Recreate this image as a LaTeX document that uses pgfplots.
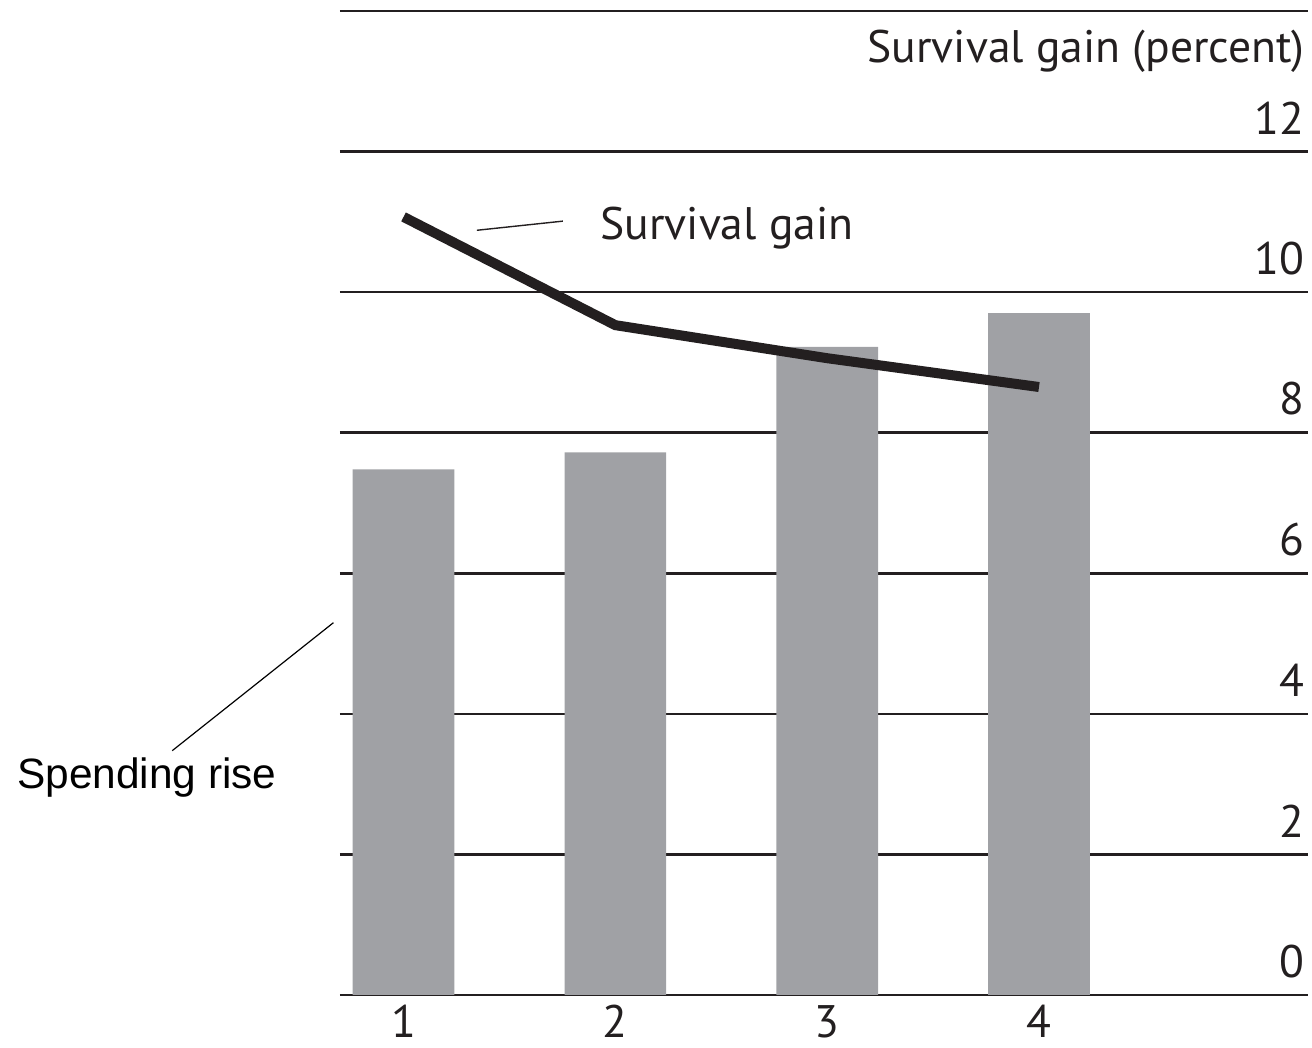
\documentclass[border=0pt]{standalone}
\usepackage{fontspec}
\setmainfont{PT Sans}
\newfontfamily\arialfont{Liberation Sans}
\usepackage{pgfplots}
\pgfplotsset{compat=1.18}

\definecolor{bargray}{RGB}{160,161,165}
\definecolor{ink}{RGB}{35,31,32}

\newcommand{\labelfont}{\fontsize{22.8}{27}\selectfont}

\begin{document}
\begin{tikzpicture}
\useasboundingbox (-170pt,-26.5pt) rectangle (486pt,497.5pt);
\begin{axis}[
  at={(0pt,0pt)}, anchor=south west,
  scale only axis, width=484pt, height=492pt,
  xmin=0.7, xmax=5.27, ymin=0, ymax=14,
  axis line style={draw=none},
  clip=false,
  ytick={0,2,...,12},
  extra y ticks={14}, extra y tick labels={},
  extra y tick style={grid=major},
  ymajorgrids,
  grid style={ink, line width=1.3pt},
  major tick length=0pt,
  yticklabel pos=right,
  yticklabel style={anchor=south east, inner sep=0pt, xshift=-1.5pt, yshift=8.5pt},
  xtick={1,2,3,4},
  xticklabel style={anchor=north, inner sep=0pt, yshift=-5pt},
  tick label style={font=\labelfont, text=ink},
  /pgf/number format/assume math mode=true,
]
% spending rise (bars)
\addplot[ybar, bar width=0.48, fill=bargray, draw=none]
  coordinates {(1,7.48) (2,7.72) (3,9.22) (4,9.70)};
% survival gain (line)
\addplot[ink, line width=5pt, mark=none]
  coordinates {(1,11.07) (2,9.53) (3,9.06) (4,8.65)};

% labels and leaders
\draw[ink, line width=0.7pt] (axis cs:1.346,10.88) -- (axis cs:1.752,11.01);
\node[anchor=base west, inner sep=0pt, font=\labelfont, text=ink]
  at (axis cs:1.928,10.755) {Survival gain};
\draw[black, line width=0.6pt] (axis cs:-0.092,3.476) -- (axis cs:0.669,5.297);
\node[anchor=base west, inner sep=0pt, font=\arialfont\fontsize{21.2}{25}\selectfont]
  at (axis cs:-0.825,2.941) {Spending rise};
\node[anchor=base east, inner sep=0pt, font=\labelfont, text=ink,
  xshift=-1.5pt, yshift=-26pt] at (rel axis cs:1,1) {Survival gain (percent)};
\end{axis}
\end{tikzpicture}
\end{document}
